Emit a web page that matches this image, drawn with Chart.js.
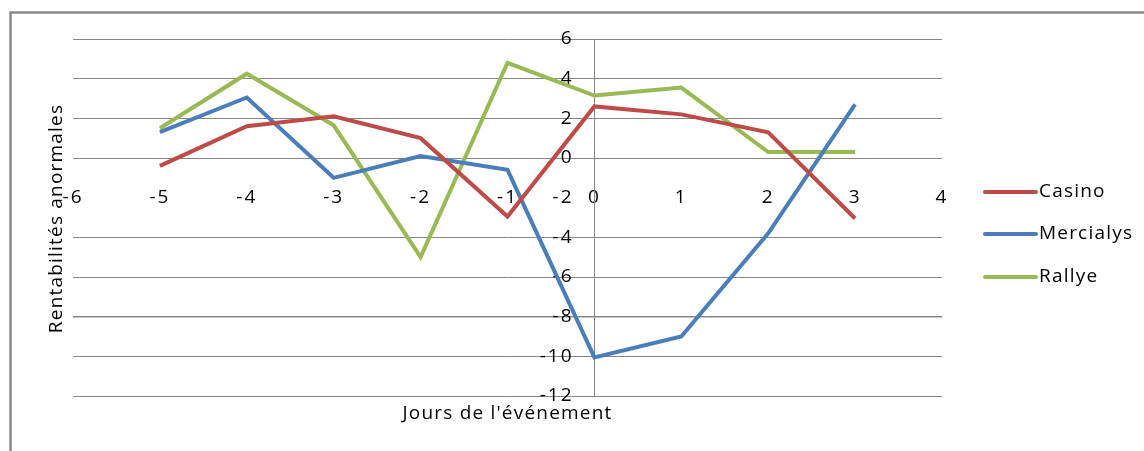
<!DOCTYPE html>
<html>
<head>
<meta charset="utf-8">
<script src="https://cdn.jsdelivr.net/npm/chart.js@4/dist/chart.umd.min.js"></script>
<style>
html,body{margin:0;padding:0;background:#fff;}
#wrap{width:1144px;height:451px;position:relative;}
</style>
</head>
<body>
<div id="wrap"><canvas id="c" width="1144" height="451"></canvas></div>
<script>
const days = [-5, -4, -3, -2, -1, 0, 1, 2, 3];
const casino = [-0.4, 1.6, 2.1, 1.0, -2.95, 2.6, 2.2, 1.3, -3.05];
const mercialys = [1.3, 3.05, -1.0, 0.1, -0.6, -10.05, -9.0, -3.8, 2.7];
const rallye = [1.5, 4.25, 1.65, -5.0, 4.8, 3.15, 3.55, 0.3, 0.3];
const seriesNames = ['Casino', 'Mercialys', 'Rallye'];
const xTitle = "Jours de l'événement";
const yTitle = 'Rentabilités anormales';

const colors = ['#BE4B48', '#4A7EBB', '#98B954'];
const FONT = '"Open Sans", sans-serif';
const TICK_SPACING = '2px';
const TEXT_SPACING = '1.2px';
const GRID = '#868686';

function pts(vals){ return days.map((d,i)=>({x:d, y:vals[i]})); }

const spacingPlugin = {
  id:'spacing',
  beforeUpdate(chart){ chart.ctx.letterSpacing = TICK_SPACING; },
  beforeLayout(chart){ chart.ctx.letterSpacing = TICK_SPACING; },
  beforeDraw(chart){ chart.ctx.letterSpacing = TICK_SPACING; }
};

const decoPlugin = {
  id:'deco',
  afterDraw(chart){
    const ctx = chart.ctx;
    const a = chart.chartArea;
    ctx.save();
    ctx.letterSpacing = TEXT_SPACING;
    // outer border
    ctx.strokeStyle = '#8a8a8a';
    ctx.lineWidth = 2.5;
    ctx.beginPath();
    ctx.moveTo(10.5, 451);
    ctx.lineTo(10.5, 12.5);
    ctx.lineTo(1144, 12.5);
    ctx.stroke();
    // titles
    ctx.fillStyle = '#000';
    ctx.font = '19px ' + FONT;
    ctx.textAlign = 'center';
    ctx.textBaseline = 'middle';
    ctx.fillText(xTitle, (a.left + a.right) / 2, 414);
    ctx.save();
    ctx.translate(57, (a.top + a.bottom) / 2 + 1);
    ctx.rotate(-Math.PI / 2);
    ctx.fillText(yTitle, 0, 0);
    ctx.restore();
    // legend
    const rows = [192, 234, 277];
    chart.data.datasets.forEach((ds, i) => {
      ctx.strokeStyle = ds.borderColor;
      ctx.lineWidth = 4;
      ctx.lineCap = 'round';
      ctx.beginPath();
      ctx.moveTo(985, rows[i]);
      ctx.lineTo(1036, rows[i]);
      ctx.stroke();
      ctx.textAlign = 'left';
      ctx.fillText(ds.label, 1039, rows[i]);
    });
    ctx.restore();
  }
};

const tickFont = { family: FONT, size: 19 };

new Chart(document.getElementById('c'), {
  type: 'scatter',
  data: {
    datasets: [casino, mercialys, rallye].map((v, i) => ({
      label: seriesNames[i],
      data: pts(v),
      showLine: true,
      borderColor: colors[i],
      backgroundColor: colors[i],
      borderWidth: 4,
      pointRadius: 0,
      pointHoverRadius: 0,
      tension: 0
    }))
  },
  options: {
    responsive: false,
    animation: false,
    devicePixelRatio: 1,
    layout: { padding: { left: 73, right: 202, top: 39, bottom: 55 } },
    plugins: { legend: { display: false }, tooltip: { enabled: false } },
    scales: {
      x: {
        type: 'linear',
        min: -6, max: 4,
        position: { y: 0 },
        grid: { display: false, drawTicks: false },
        border: { display: false },
        ticks: { stepSize: 1, padding: 28, color: '#000', font: tickFont, maxRotation: 0, autoSkip: false }
      },
      y: {
        type: 'linear',
        min: -12, max: 6,
        position: { x: 0 },
        grid: {
          drawTicks: false,
          color: (c) => (c.tick && c.tick.value === -2) ? 'rgba(0,0,0,0)' : GRID,
          lineWidth: (c) => (c.tick && c.tick.value === -8) ? 1.6 : 1
        },
        border: { display: true, color: GRID, width: 1 },
        ticks: { stepSize: 2, display: false }
      },
      yl: {
        type: 'linear',
        axis: 'y',
        min: -12, max: 6,
        position: { x: -0.24 },
        grid: { display: false, drawTicks: false },
        border: { display: false },
        ticks: { stepSize: 2, color: '#000', font: tickFont, autoSkip: false }
      }
    }
  },
  plugins: [spacingPlugin, decoPlugin]
});
</script>
</body>
</html>
